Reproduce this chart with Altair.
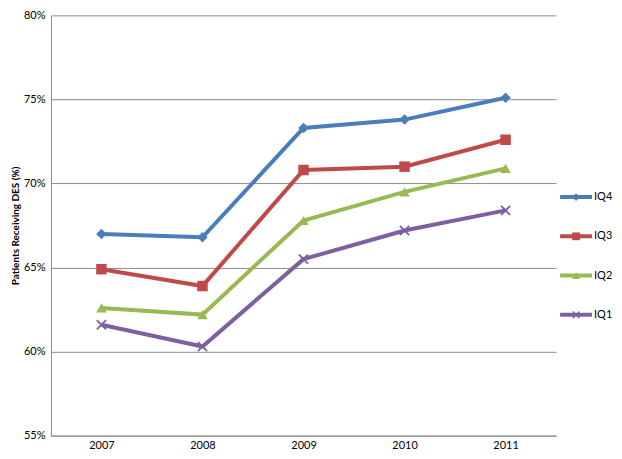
import altair as alt
import pandas as pd

years = ["2007", "2008", "2009", "2010", "2011"]
series_names = ["IQ4", "IQ3", "IQ2", "IQ1"]
iq4 = [67.0, 66.8, 73.3, 73.8, 75.1]
iq3 = [64.9, 63.9, 70.8, 71.0, 72.6]
iq2 = [62.6, 62.2, 67.8, 69.5, 70.9]
iq1 = [61.6, 60.3, 65.5, 67.2, 68.4]
y_ticks = [55, 60, 65, 70, 75, 80]

colors = ["#4A7EBB", "#BE4B48", "#98B954", "#7D60A0"]
x_path = ("M-1,-0.75L-0.75,-1L0,-0.25L0.75,-1L1,-0.75L0.25,0L1,0.75L0.75,1"
          "L0,0.25L-0.75,1L-1,0.75L-0.25,0Z")
shapes = ["diamond", "square", "triangle-up", x_path]

rows = []
for name, vals in zip(series_names, [iq4, iq3, iq2, iq1]):
    for yr, v in zip(years, vals):
        rows.append({"year": yr, "series": name, "value": v})
df = pd.DataFrame(rows)
legend_df = pd.DataFrame({"series": series_names})

FONT = "Lato"
color_enc = alt.Color("series:N", scale=alt.Scale(domain=series_names, range=colors), legend=None)
shape_enc = alt.Shape("series:N", scale=alt.Scale(domain=series_names, range=shapes), legend=None)

x_enc = alt.X("year:O", scale=alt.Scale(type="point", padding=0.5),
              axis=alt.Axis(title=None, labelAngle=0, ticks=False, labelPadding=4,
                            labelFontSize=11, labelFont=FONT, labelColor="#000000",
                            domainColor="#8c8c8c", grid=False))
y_enc = alt.Y("value:Q", scale=alt.Scale(domain=[55, 80], nice=False, zero=False),
              axis=alt.Axis(values=y_ticks, labelExpr="datum.value + '%'",
                            title="Patients Receiving DES (%)", titleFontSize=10,
                            titleFont=FONT, titleFontWeight="bold", titlePadding=3,
                            labelFontSize=11, labelFont=FONT, labelColor="#000000",
                            labelPadding=6, ticks=False, grid=True,
                            gridColor="#8c8c8c", domainColor="#8c8c8c"))

base = alt.Chart(df)
lines = base.mark_line(strokeWidth=4).encode(x=x_enc, y=y_enc, color=color_enc,
                                               order=alt.Order("year:O"))
points = base.mark_point(filled=True, opacity=1, size=110).encode(
    x=x_enc, y=y_enc, color=color_enc, shape=shape_enc)
main = alt.layer(lines, points)

leg_y = alt.Y("series:N", scale=alt.Scale(type="point", domain=series_names,
                                           range=[182, 300], padding=0), axis=None)
lbase = alt.Chart(legend_df)
leg_rule = lbase.mark_rule(strokeWidth=4).encode(
    x=alt.value(510), x2=alt.value(542), y=leg_y, color=color_enc)
leg_pts = lbase.mark_point(filled=True, opacity=1, size=60).encode(
    x=alt.value(526), y=leg_y, color=color_enc, shape=shape_enc)
leg_text = lbase.mark_text(align="left", baseline="middle", fontSize=11, font=FONT,
                           color="#000000").encode(x=alt.value(544), y=leg_y, text="series:N")
legend = alt.layer(leg_rule, leg_pts, leg_text)

chart = alt.layer(main, legend).resolve_scale(y="independent").properties(
    width=506, height=421,
    padding={"left": 43, "top": 7, "right": 58, "bottom": 15},
    autosize=alt.AutoSizeParams(type="none"),
).configure_view(stroke="transparent")

chart.save("out.html", embed_options={"renderer": "svg", "actions": False})
